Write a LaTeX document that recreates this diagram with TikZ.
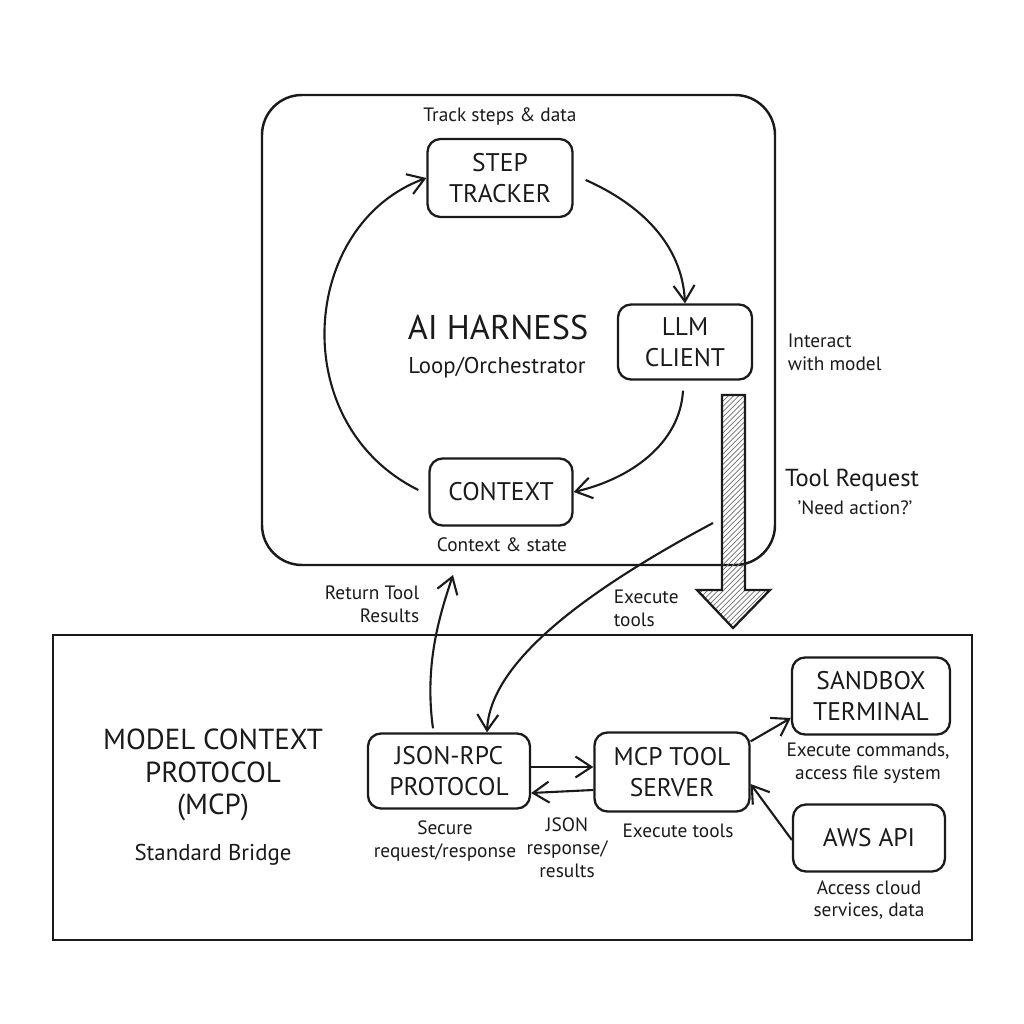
\documentclass[tikz,border=0pt]{standalone}
\usepackage{fontspec}
\setmainfont{PT Sans}
\usetikzlibrary{arrows.meta, patterns, positioning}
\definecolor{inkBlack}{HTML}{1A1A1A}
\definecolor{hatchGrey}{HTML}{6E6E6E}
\tikzset{
  % heavier default lines, open barbed tips like a pen sketch
  every picture/.append style = {line width=1.1pt, inkBlack, >={Straight Barb[length=3.2mm, width=4.2mm]}},
  frame/.style     = {draw=inkBlack, line width=1.4pt},
  flow/.style      = {->, line width=1.2pt},
  blk/.style       = {draw=inkBlack, rounded corners=2.6mm, line width=1.3pt, align=center,
                      inner sep=0, font=\fontsize{14.5}{17.5}\selectfont},
  lbl/.style       = {font=\fontsize{11}{13}\selectfont, align=center},
  title/.style     = {font=\fontsize{16.5}{18.5}\selectfont, align=center},
}

\begin{document}
\begin{tikzpicture}[x=0.2mm, y=0.2mm]
  \useasboundingbox (0,0) rectangle (1024,1024);
  % --- harness loop --------------------------------------------------------
  \draw[frame, rounded corners=8mm] (262,459) rectangle (775,929);
  \node[lbl] (tracklbl) at (500,907) {Track steps \& data};
  \node[blk, minimum width=29mm, minimum height=15.6mm] (step) at (500,846) {STEP\\TRACKER};
  \node[blk, minimum width=26.8mm, minimum height=15mm] (llm) at (685,682) {LLM\\CLIENT};
  \node[blk, minimum width=28.6mm, minimum height=13.4mm] (ctx) at (501,532) {CONTEXT};
  \node[lbl] (ctxlbl) at (502,479) {Context \& state};
  \node[font=\fontsize{19.5}{22}\selectfont] (harness) at (498,696) {AI HARNESS};
  \node[lbl, font=\fontsize{13}{15}\selectfont] (orch) at (497,656) {Loop/Orchestrator};
  \node[lbl, align=left, anchor=west] (interact) at (781,672) {Interact\\with model};
  \draw[flow] (step.east) ++(12,-2) coordinate (s1)
    (s1) .. controls (640,820) and (682,780) .. (llm.north);
  \draw[flow] (llm.south) ++(-2,-10) coordinate (l1)
    (l1) .. controls (680,580) and (630,545) .. (ctx.east);
  \draw[flow] (ctx.west) ++(-10,2) coordinate (c1)
    (c1) .. controls (285,600) and (300,800) .. (step.west);
  % --- tool request (hatched arrow) ----------------------------------------
  \filldraw[line width=1.3pt, fill=white, pattern=north east lines, pattern color=hatchGrey]
    (722,629) -- (745,629) -- (745,434) -- (770,434) -- (733,396) -- (697,434) -- (722,434) -- cycle;
  \node[font=\fontsize{14}{16}\selectfont] (toolreq) at (852,544) {Tool Request};
  \node[lbl] (needact) at (855,516) {'Need action?'};
  % --- MCP bridge ----------------------------------------------------------
  \draw[frame] (53,84) rectangle (972,389);
  \node[title] (mcptitle) at (213,249) {MODEL CONTEXT\\PROTOCOL\\(MCP)};
  \node[lbl, font=\fontsize{13}{15}\selectfont] (bridge) at (213,169) {Standard Bridge};
  \node[blk, minimum width=32.4mm, minimum height=15mm] (rpc) at (449,253) {JSON-RPC\\PROTOCOL};
  \node[blk, minimum width=31mm, minimum height=15.8mm] (mcpsrv) at (672,252) {MCP TOOL\\SERVER};
  \node[blk, minimum width=31.6mm, minimum height=15.4mm] (sandbox) at (871,328) {SANDBOX\\TERMINAL};
  \node[blk, minimum width=30.4mm, minimum height=13.4mm] (aws) at (869,186) {AWS API};
  \node[lbl] (secure) at (445,183) {Secure\\request/response};
  \node[lbl] (jsonresp) at (567,176) {JSON\\response/\\results};
  \node[lbl] (exectools) at (678,193) {Execute tools};
  \node[lbl] (execcmd) at (868,261) {Execute commands,\\access file system};
  \node[lbl] (access) at (869,124) {Access cloud\\services, data};
  \node[lbl, align=right, anchor=east] (retlbl) at (426,420) {Return Tool\\Results};
  \node[lbl, align=left, anchor=west] (execlbl) at (607,416) {Execute\\tools};
  \coordinate (reqstart) at (713,501);
  \coordinate (harnessin) at (453,449);
  % requests down, results back up
  \draw[flow] (rpc.north) ++(-16,4) coordinate (r1)
    (r1) .. controls (424,360) and (440,410) .. (harnessin);
  \draw[flow] (reqstart) .. controls (580,430) and (490,360) .. ([xshift=38*0.2mm]rpc.north);
  \draw[flow] ([yshift=4*0.2mm]rpc.east) -- ([yshift=5*0.2mm]mcpsrv.west);
  \draw[flow] ([yshift=-18*0.2mm]mcpsrv.west) -- ([yshift=-22*0.2mm]rpc.east);
  \draw[flow] ([yshift=-10*0.2mm]mcpsrv.north east) -- ([yshift=-22*0.2mm]sandbox.west);
  \draw[flow] ([yshift=-2*0.2mm]aws.west) -- ([yshift=-12*0.2mm]mcpsrv.east);
\end{tikzpicture}
\end{document}
